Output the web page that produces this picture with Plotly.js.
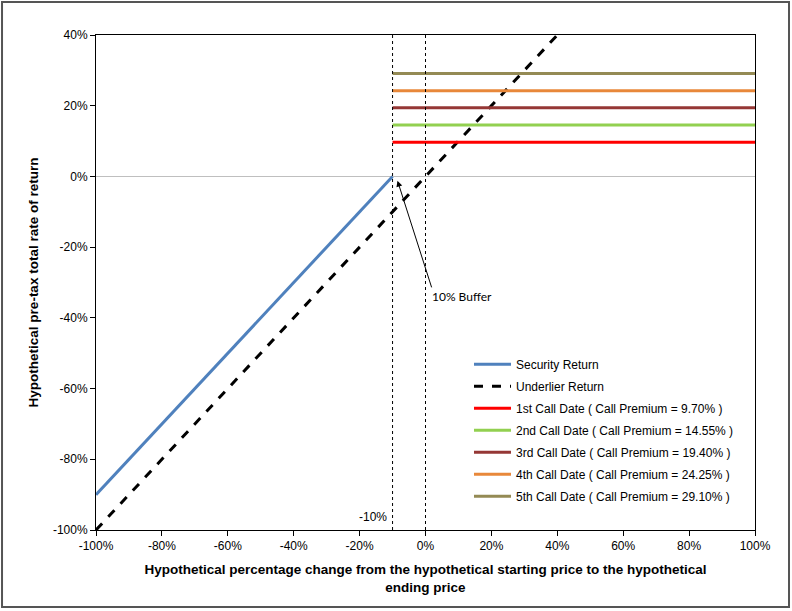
<!DOCTYPE html>
<html>
<head>
<meta charset="utf-8">
<script src="https://cdn.plot.ly/plotly-3.0.1.min.js"></script>
<style>
  body { margin: 0; background: #fff; }
  #chart { width: 792px; height: 611px; }
</style>
</head>
<body>
<div id="chart"></div>
<script>
// price change points (x) and returns (y)
var securityX = [-1, -0.1];
var securityY = [-0.9, 0];
var underlierX = [-1, 0.4];
var underlierY = [-1, 0.4];

var callX = [-0.1, 1];
var callNames = [
    '1st Call Date ( Call Premium = 9.70% )',
    '2nd Call Date ( Call Premium = 14.55% )',
    '3rd Call Date ( Call Premium = 19.40% )',
    '4th Call Date ( Call Premium = 24.25% )',
    '5th Call Date ( Call Premium = 29.10% )'
];
var callPremiums = [0.097, 0.1455, 0.194, 0.2425, 0.291];
var callColors = ['#ff0000', '#92d050', '#953735', '#e8883a', '#948a54'];

var xTickVals = [-1, -0.8, -0.6, -0.4, -0.2, 0, 0.2, 0.4, 0.6, 0.8, 1];
var xTickText = ['-100%', '-80%', '-60%', '-40%', '-20%', '0%', '20%', '40%', '60%', '80%', '100%'];
var yTickVals = [-1, -0.8, -0.6, -0.4, -0.2, 0, 0.2, 0.4];
var yTickText = ['-100%', '-80%', '-60%', '-40%', '-20%', '0%', '20%', '40%'];

var markerLines = [-0.1, 0];   // buffer level and start price
var bufferArrow = {x: -0.085, y: -0.012, ax: 0.02, ay: -0.318};

var font = 'Arial, "Liberation Sans", sans-serif';

var data = [
    {
        x: securityX, y: securityY,
        mode: 'lines', name: 'Security Return', legendgroup: 'g0',
        line: {color: '#4f81bd', width: 3},
        hoverinfo: 'none'
    },
    {
        x: underlierX, y: underlierY,
        mode: 'lines', name: 'Underlier Return', legendgroup: 'g1',
        line: {color: '#000000', width: 3, dash: 'dash'},
        hoverinfo: 'none'
    }
];

for (var i = 0; i < callPremiums.length; i++) {
    data.push({
        x: callX,
        y: [callPremiums[i], callPremiums[i]],
        mode: 'lines', name: callNames[i], legendgroup: 'c' + i,
        line: {color: callColors[i], width: 3},
        hoverinfo: 'none'
    });
}

var shapes = markerLines.map(function (v) {
    return {
        type: 'line', xref: 'x', yref: 'paper',
        x0: v, x1: v, y0: 0, y1: 1,
        line: {color: '#000', width: 1, dash: '3px,3px'}
    };
});
// outer frame round the whole picture
shapes.push({
    type: 'rect', xref: 'paper', yref: 'paper',
    x0: -0.1426, x1: 1.0516, y0: -0.1556, y1: 1.0667,
    line: {color: '#555', width: 2}
});

var layout = {
    width: 792,
    height: 611,
    margin: {l: 96, r: 37, t: 35, b: 81},
    paper_bgcolor: '#fff',
    plot_bgcolor: '#fff',
    font: {family: font, size: 12, color: '#000'},
    showlegend: true,
    legend: {
        x: 0.566, y: 0.364, xanchor: 'left', yanchor: 'top',
        bgcolor: '#fff', borderwidth: 0,
        traceorder: 'grouped', tracegroupgap: 3,
        itemwidth: 37,
        font: {family: font, size: 12, color: '#000'}
    },
    xaxis: {
        range: [-1, 1],
        tickvals: xTickVals, ticktext: xTickText,
        ticks: 'outside', ticklen: 5, tickcolor: '#000',
        showline: true, linecolor: '#000', linewidth: 1, mirror: true,
        showgrid: false, zeroline: false,
        title: {
            text: 'Hypothetical percentage change from the hypothetical starting price to the hypothetical<br>ending price',
            font: {family: font, size: 13.5, weight: 'bold'},
            standoff: 12
        }
    },
    yaxis: {
        range: [-1, 0.4],
        tickvals: yTickVals, ticktext: yTickText,
        ticks: 'outside', ticklen: 5, tickcolor: '#000',
        showline: true, linecolor: '#000', linewidth: 1, mirror: true,
        showgrid: false,
        zeroline: true, zerolinecolor: '#bfbfbf', zerolinewidth: 1,
        title: {
            text: 'Hypothetical pre-tax total rate of return',
            font: {family: font, size: 13.5, weight: 'bold'},
            standoff: 11
        }
    },
    shapes: shapes,
    annotations: [
        {
            x: bufferArrow.x, y: bufferArrow.y,
            ax: bufferArrow.ax, ay: bufferArrow.ay,
            axref: 'x', ayref: 'y',
            text: '', showarrow: true,
            arrowhead: 2, arrowsize: 1.2, arrowwidth: 1, arrowcolor: '#000'
        },
        {
            x: 0.015, y: -0.34, xanchor: 'left', yanchor: 'middle',
            text: '10% Buffer', showarrow: false,
            font: {family: 'Lato, sans-serif', size: 12, color: '#000'}
        },
        {
            x: markerLines[0], y: -0.963, xanchor: 'right', yanchor: 'middle',
            xshift: -4,
            text: '-10%', showarrow: false,
            font: {family: font, size: 12, color: '#000'}
        }
    ]
};

Plotly.newPlot('chart', data, layout, {displayModeBar: false, staticPlot: true});
</script>
</body>
</html>
